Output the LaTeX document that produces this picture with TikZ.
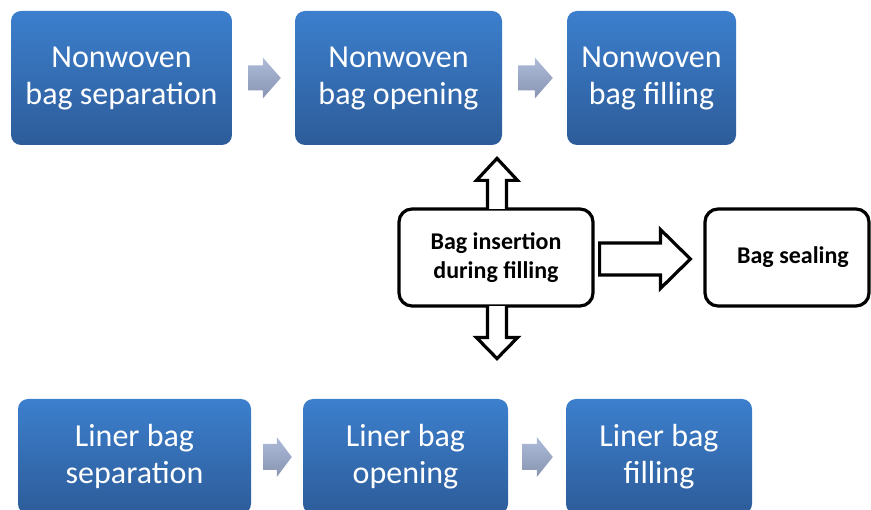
\documentclass[tikz,border=0pt]{standalone}
\usepackage{fontspec}
\setmainfont{Carlito}
\usetikzlibrary{calc}
\definecolor{boxtop}{RGB}{60,127,205}
\definecolor{boxbot}{RGB}{45,92,153}
\definecolor{arrtop}{RGB}{174,188,218}
\definecolor{arrbot}{RGB}{136,148,176}
\tikzset{
  bluebox/.style={rounded corners=10pt, top color=boxtop, bottom color=boxbot,
    text=white, font=\fontsize{32}{37}\selectfont, align=center, inner sep=0pt},
  whitebox/.style={rounded corners=13pt, draw=black, line width=3.2pt, fill=white,
    font=\bfseries\fontsize{24}{28.5}\selectfont, align=center, inner sep=0pt},
  blockshade/.style={top color=arrtop, bottom color=arrbot},
  outlinearrow/.style={draw=black, fill=white, line width=3.2pt, line join=miter},
}
% horizontal block arrow: style, start, end, shaft half, head half, head length
\newcommand\harr[6]{%
  \path[#1] ($(#2)+(0,-#4)$) -- ($(#3)+(-#6,-#4)$) -- ($(#3)+(-#6,-#5)$) -- (#3)
    -- ($(#3)+(-#6,#5)$) -- ($(#3)+(-#6,#4)$) -- ($(#2)+(0,#4)$) -- cycle;}
% vertical block arrow (open at the start): style, start, end, shaft half, head half, head length, sign
\newcommand\varr[7]{%
  \path[#1] ($(#2)+(-#4,0)$) -- ($(#3)+(-#4,#7#6)$) -- ($(#3)+(-#5,#7#6)$) -- (#3)
    -- ($(#3)+(#5,#7#6)$) -- ($(#3)+(#4,#7#6)$) -- ($(#2)+(#4,0)$);}
\begin{document}
\begin{tikzpicture}[x=1pt,y=-1pt]
\useasboundingbox (0,0) rectangle (871,510);
% top row
\node[bluebox, minimum width=221pt, minimum height=134pt] (A1) at (121.5,78) {Nonwoven\\bag separation};
\node[bluebox, minimum width=207pt, minimum height=134pt] (A2) at (398.5,78) {Nonwoven\\bag opening};
\node[bluebox, minimum width=169pt, minimum height=134pt] (A3) at (651.5,78) {Nonwoven\\bag filling};
% bottom row
\node[bluebox, minimum width=233pt, minimum height=115pt] (B1) at (134.5,456.5) {Liner bag\\separation};
\node[bluebox, minimum width=205pt, minimum height=115pt] (B2) at (405.5,456.5) {Liner bag\\opening};
\node[bluebox, minimum width=186pt, minimum height=115pt] (B3) at (659,456.5) {Liner bag\\filling};
% middle
\node[whitebox, minimum width=194pt, minimum height=97pt] (C) at (496,257.5) {Bag insertion\\during filling};
\node[whitebox, minimum width=164pt, minimum height=97pt] (D) at (787,257.5) {\hspace*{12pt}Bag sealing};
% blue arrows
\coordinate (a1s) at ($(A1.east)+(16,0)$);
\coordinate (a1e) at ($(A2.west)+(-14,0)$);
\coordinate (a2s) at ($(A2.east)+(16,0)$);
\coordinate (a2e) at ($(A3.west)+(-14,0)$);
\coordinate (b1s) at ($(B1.east)+(12,0.5)$);
\coordinate (b1e) at ($(B2.west)+(-11,0.5)$);
\coordinate (b2s) at ($(B2.east)+(14,0.5)$);
\coordinate (b2e) at ($(B3.west)+(-13,0.5)$);
\harr{blockshade}{a1s}{a1e}{12.5}{20.5}{18}
\harr{blockshade}{a2s}{a2e}{12.5}{20.5}{18}
\harr{blockshade}{b1s}{b1e}{13}{20}{15}
\harr{blockshade}{b2s}{b2e}{13}{20}{16}
% outline arrows
\coordinate (rs) at ($(C.east)+(5,1.5)$);
\coordinate (re) at ($(D.west)+(-13,1.5)$);
\harr{outlinearrow}{rs}{re}{16}{29.5}{30}
\coordinate (us) at ($(C.north)+(1,1.5)$);
\coordinate (ue) at ($(C.north)+(1,-49)$);
\varr{outlinearrow}{us}{ue}{9.5}{20.5}{22}{+}
\coordinate (ds) at ($(C.south)+(1,-1.5)$);
\coordinate (de) at ($(C.south)+(1,51)$);
\varr{outlinearrow}{ds}{de}{9.5}{20.5}{21}{-}
\end{tikzpicture}
\end{document}
